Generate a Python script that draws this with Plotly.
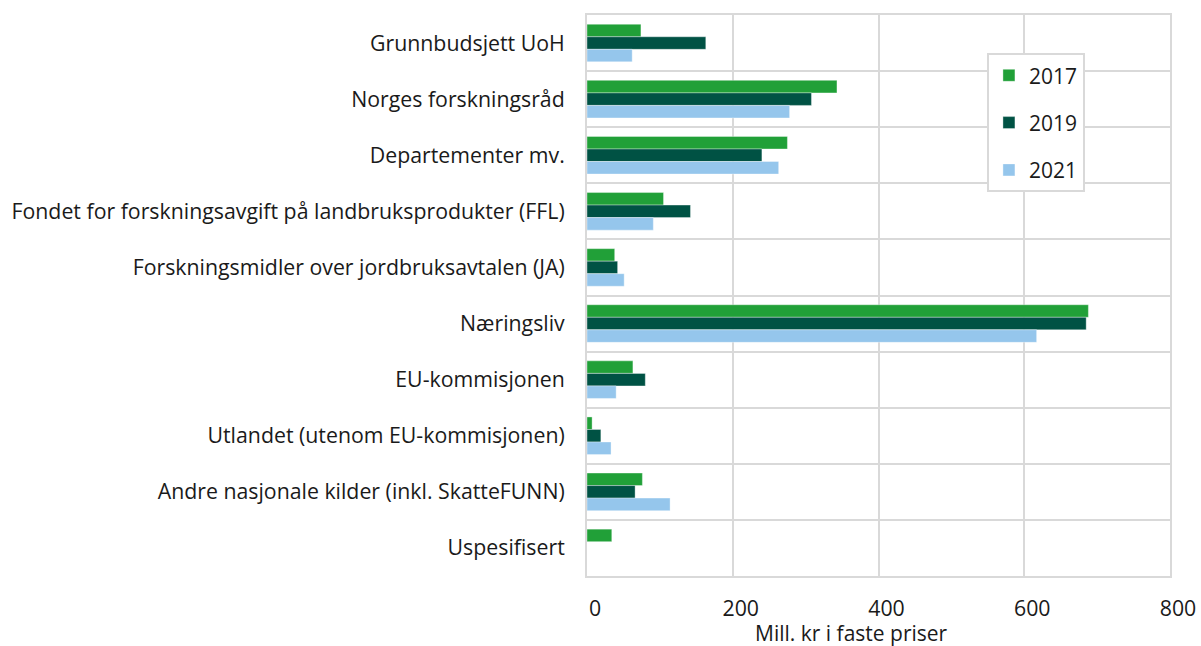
import plotly.graph_objects as go

# ============================================================
# DATA
# ============================================================
categories = [
    "Grunnbudsjett UoH",
    "Norges forskningsråd",
    "Departementer mv.",
    "Fondet for forskningsavgift på landbruksprodukter (FFL)",
    "Forskningsmidler over jordbruksavtalen (JA)",
    "Næringsliv",
    "EU-kommisjonen",
    "Utlandet (utenom EU-kommisjonen)",
    "Andre nasjonale kilder (inkl. SkatteFUNN)",
    "Uspesifisert",
]
years = ["2017", "2019", "2021"]
values_2017 = [74, 343, 275, 105, 38, 688, 63, 7, 76, 34]
values_2019 = [163, 308, 240, 142, 42, 685, 80, 19, 66, None]
values_2021 = [62, 278, 263, 91, 51, 617, 40, 33, 114, None]
x_ticks = [0, 200, 400, 600, 800]

colors = ["#21A038", "#005244", "#95C6EC"]
GRID = "#D9D9D9"
FONT = "Open Sans, Noto Sans, sans-serif"

positions = list(range(len(categories)))

fig = go.Figure()
for year, vals, color in zip(years, [values_2017, values_2019, values_2021], colors):
    fig.add_trace(
        go.Bar(
            y=positions,
            x=vals,
            orientation="h",
            name=year,
            legendgroup=year,
            marker=dict(color=color, line=dict(width=0.6, color="rgba(255,255,255,0.6)")),
        )
    )

fig.update_layout(
    barmode="group",
    bargap=0.33,
    bargroupgap=0,
    width=1201,
    height=646,
    margin=dict(l=587, r=31, t=15, b=70),
    plot_bgcolor="white",
    paper_bgcolor="white",
    font=dict(family=FONT, size=21.3, color="#1a1a1a"),
    legend=dict(
        x=0.686, y=0.932, xanchor="left", yanchor="top",
        bgcolor="white", bordercolor=GRID, borderwidth=2,
        traceorder="grouped", tracegroupgap=17,
        font=dict(size=21),
    ),
    annotations=[
        dict(
            text="Mill. kr i faste priser",
            xref="paper", yref="paper", x=0.453, y=0, yshift=-57,
            xanchor="center", yanchor="middle", showarrow=False,
            font=dict(size=21),
        )
    ],
)
fig.update_xaxes(
    range=[0, 800],
    tickvals=x_ticks,
    showgrid=True, gridcolor=GRID, gridwidth=2,
    zeroline=False,
    showline=True, linecolor=GRID, linewidth=2, mirror=True,
    ticks="", ticklabelshift=8, ticklabelstandoff=12,
    ticklabeloverflow="allow",
    automargin=False,
)
fig.update_yaxes(
    range=[len(categories) - 0.5, -0.5],
    tickvals=positions,
    ticktext=categories,
    showgrid=False,
    zeroline=False,
    showline=True, linecolor=GRID, linewidth=2, mirror=True,
    ticks="", ticklabelstandoff=16,
    automargin=False,
    minor=dict(tick0=0.5, dtick=1, showgrid=True, gridcolor=GRID, gridwidth=2),
)

# drop the default page margin so the figure fills the window exactly
fig.write_html(
    "out.html",
    config={"displayModeBar": False},
    post_script="document.body.style.margin='0'; document.body.style.overflow='hidden';",
)
